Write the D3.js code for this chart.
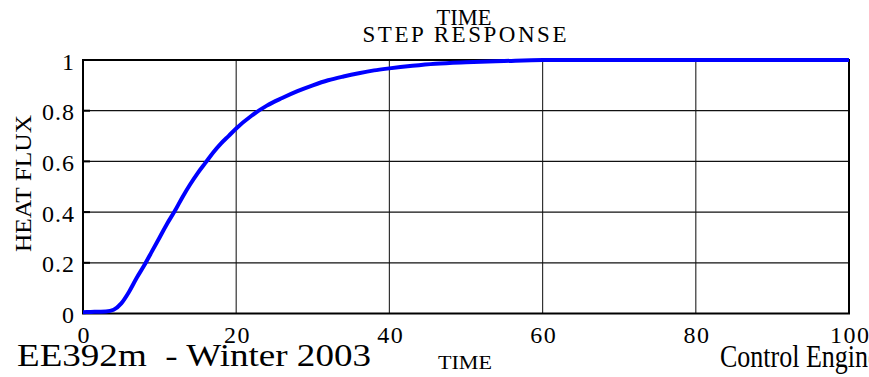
<!DOCTYPE html>
<html>
<head>
<meta charset="utf-8">
<script src="https://cdn.jsdelivr.net/npm/d3@7/dist/d3.min.js"></script>
<style>
  html, body { margin: 0; padding: 0; background: #fff; overflow: hidden; }
  svg { display: block; }
  text { font-family: "Liberation Serif", "Times New Roman", Tinos, serif; fill: #000; }
</style>
</head>
<body>
<svg id="chart" width="869" height="377"></svg>
<script>
// Step response of the heat-flux loop (time vs. normalised flux)
const timePoints = [0, 1, 2, 3, 4, 5, 6, 7, 8, 9, 10, 11, 12, 13, 14, 15, 16, 17, 18, 19, 20,
                    22, 24, 26, 28, 30, 32, 34, 36, 38, 40, 43, 46, 50, 55, 60, 70, 80, 90, 100];
const fluxValues = [0.005, 0.006, 0.007, 0.008, 0.015, 0.04, 0.085, 0.14, 0.19, 0.245, 0.30,
                    0.355, 0.405, 0.46, 0.51, 0.555, 0.595, 0.635, 0.67, 0.70, 0.73,
                    0.78, 0.82, 0.85, 0.877, 0.90, 0.92, 0.935, 0.948, 0.959, 0.967,
                    0.977, 0.985, 0.991, 0.996, 1.0, 1.0, 1.0, 1.0, 1.0];
const xTicks = [0, 20, 40, 60, 80, 100];
const yTicks = [0, 0.2, 0.4, 0.6, 0.8, 1];

const svg = d3.select("#chart");
const plotL = 83, plotR = 849, plotT = 60, plotB = 313.5;
const serif = '"Liberation Serif", "Times New Roman", Tinos, serif';

const x = d3.scaleLinear().domain([0, 100]).range([plotL, plotR]);
const y = d3.scaleLinear().domain([0, 1]).range([plotB, plotT]);

// grid
const grid = svg.append("g");
grid.selectAll("line.vx").data(xTicks.slice(1, -1)).join("line")
  .attr("x1", d => x(d)).attr("x2", d => x(d))
  .attr("y1", plotT).attr("y2", plotB)
  .attr("stroke", "#333").attr("stroke-width", 1.2);
grid.selectAll("line.hy").data(yTicks.slice(1, -1)).join("line")
  .attr("x1", plotL).attr("x2", plotR)
  .attr("y1", d => y(d)).attr("y2", d => y(d))
  .attr("stroke", "#111").attr("stroke-width", 1.2);

// inner tick marks on the left axis
grid.selectAll("line.tk").data(yTicks.slice(1, -1)).join("line")
  .attr("x1", plotL).attr("x2", plotL + 7)
  .attr("y1", d => y(d)).attr("y2", d => y(d))
  .attr("stroke", "#000").attr("stroke-width", 2);

// frame
svg.append("rect")
  .attr("x", plotL).attr("y", plotT)
  .attr("width", plotR - plotL).attr("height", plotB - plotT)
  .attr("fill", "none").attr("stroke", "#000").attr("stroke-width", 2);

// tick labels via d3 axes
const xAxis = svg.append("g")
  .attr("transform", `translate(0,${plotB})`)
  .call(d3.axisBottom(x).tickValues(xTicks).tickSize(0).tickPadding(12).tickFormat(d3.format("d")));
xAxis.select(".domain").remove();
xAxis.selectAll("text")
  .attr("font-size", 24).attr("font-family", serif)
  .attr("letter-spacing", 1.5).attr("dx", 0.75);

const yAxis = svg.append("g")
  .attr("transform", `translate(${plotL},0)`)
  .call(d3.axisLeft(y).tickValues(yTicks).tickSize(0).tickPadding(8)
    .tickFormat(d => d === 0 || d === 1 ? d3.format("d")(d) : d3.format(".1f")(d)));
yAxis.select(".domain").remove();
yAxis.selectAll("text")
  .attr("font-size", 24).attr("font-family", serif)
  .attr("letter-spacing", 1).attr("dy", "0.375em");

// response curve
const line = d3.line().x((d, i) => x(timePoints[i])).y(d => y(d)).curve(d3.curveMonotoneX);
svg.append("path")
  .datum(fluxValues)
  .attr("d", line)
  .attr("fill", "none")
  .attr("stroke", "#0000ff")
  .attr("stroke-width", 4)
  .attr("stroke-linejoin", "round");

// titles
svg.append("text").attr("x", 464).attr("y", 25).attr("text-anchor", "middle")
  .attr("font-size", 23).attr("textLength", 55).attr("lengthAdjust", "spacingAndGlyphs")
  .text("TIME");
svg.append("text").attr("x", 464.5).attr("y", 41.5).attr("text-anchor", "middle")
  .attr("font-size", 23).attr("textLength", 204).attr("lengthAdjust", "spacing")
  .text("STEP RESPONSE");

svg.append("text")
  .attr("transform", "translate(31,183.5) rotate(-90)")
  .attr("text-anchor", "middle").attr("font-size", 24)
  .attr("textLength", 137).attr("lengthAdjust", "spacingAndGlyphs")
  .text("HEAT FLUX");

// footer
svg.append("text").attr("x", 17).attr("y", 366)
  .attr("font-size", 31).attr("textLength", 354).attr("lengthAdjust", "spacingAndGlyphs")
  .style("white-space", "pre")
  .text("EE392m  - Winter 2003");
svg.append("text").attr("x", 438).attr("y", 369)
  .attr("font-size", 19).attr("textLength", 54).attr("lengthAdjust", "spacingAndGlyphs")
  .text("TIME");
svg.append("text").attr("x", 720).attr("y", 366.5)
  .attr("font-size", 31).attr("textLength", 213).attr("lengthAdjust", "spacingAndGlyphs")
  .text("Control Engineering");
</script>
</body>
</html>
